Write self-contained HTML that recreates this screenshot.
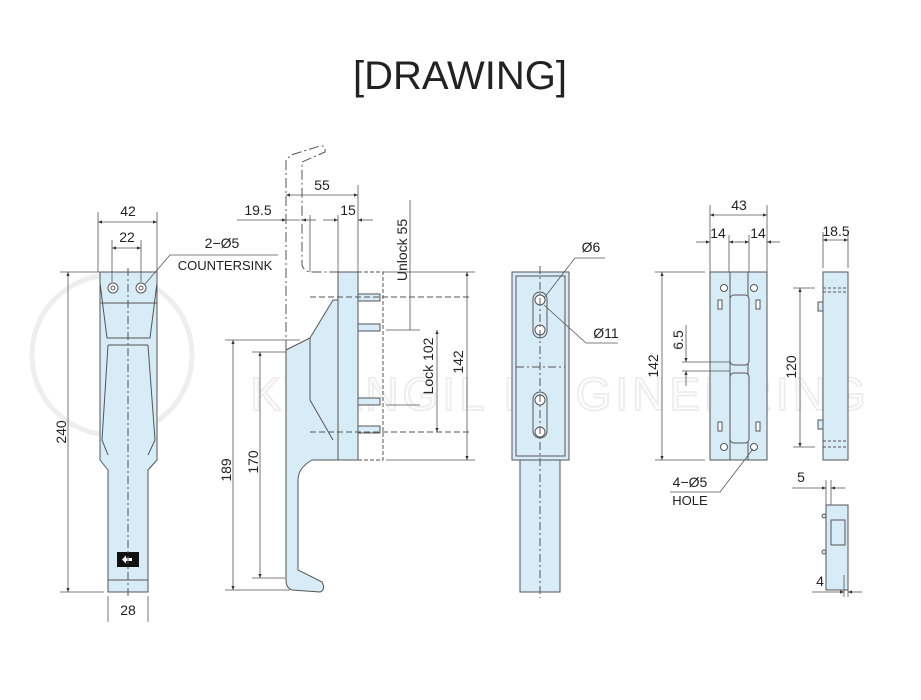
<!DOCTYPE html>
<html><head><meta charset="utf-8"><style>
html,body{margin:0;padding:0;background:#fff;}
svg{display:block;font-family:"Liberation Sans",sans-serif;}
</style></head><body>
<svg width="921" height="700" viewBox="0 0 921 700" xmlns="http://www.w3.org/2000/svg">
<defs>
<marker id="a" viewBox="0 0 10 10" refX="10" refY="5" markerWidth="7" markerHeight="5" orient="auto-start-reverse"><path d="M0,1 L10,5 L0,9z" fill="#333"/></marker>
</defs>
<text x="460" y="89" text-anchor="middle" font-size="40" fill="#222">[DRAWING]</text>

<!-- watermark -->
<g fill="none" stroke="#eeeeee" stroke-width="5">
<circle cx="112" cy="355" r="80"/>
<text x="560" y="410" font-size="46" stroke-width="2" text-anchor="middle" letter-spacing="4">KWANGIL ENGINEERING</text>
</g>

<g stroke="#555" stroke-width="1" fill="#d7ecf7">
<!-- VIEW 1 -->
<path d="M100,272 H157 V460 L148,470 V592 H108 V470 L100,460 Z"/>
<line x1="100" y1="303" x2="157" y2="303"/>
<path d="M100,283 L107,338 H150 L157,283" fill="none"/>
<path d="M108,345 L102,440 L108,455 M148,345 L155,440 L148,455" fill="none"/>
<line x1="108" y1="345" x2="148" y2="345"/>
<line x1="108" y1="580" x2="148" y2="580"/>
<circle cx="113" cy="288" r="5" fill="#fff"/><circle cx="113" cy="288" r="2" fill="none"/>
<circle cx="141" cy="288" r="5" fill="#fff"/><circle cx="141" cy="288" r="2" fill="none"/>
<rect x="117" y="552" width="22" height="15" fill="#111" stroke="none"/>
<path d="M122,559.5 l4,-4 v2.5 h6 v3 h-6 v2.5z" fill="#fff" stroke="none"/>
<line x1="128" y1="268" x2="128" y2="598" stroke-dasharray="8,3,2,3" fill="none"/>

<!-- VIEW 2 -->
<path d="M286,350 L310,338 L333,300 L338,300 V460 L333,460 H312 Q298,468 298,480 V570 L322,582 Q326,590 320,592 L292,590 Q286,588 286,580 Z"/>
<rect x="338" y="272" width="20" height="188"/>
<path d="M310,338 V400 L333,440" fill="none"/>
<path d="M286,350 V160 L291,155 L320,146 Q326,145 325,152 L302,162 V265 Q304,272 312,272 H338" fill="none" stroke-dasharray="10,3,2,3"/>
<g fill="#d7ecf7">
<rect x="358" y="294" width="22" height="7"/><rect x="358" y="324" width="22" height="7"/>
<rect x="358" y="398" width="22" height="7"/><rect x="358" y="426" width="22" height="7"/>
</g>
<path d="M358,272 H383 V460 H358" fill="none" stroke-dasharray="4,2"/>
<line x1="310" y1="297" x2="470" y2="297" stroke-dasharray="6,3" fill="none"/>
<line x1="310" y1="432" x2="470" y2="432" stroke-dasharray="6,3" fill="none"/>
</g>

<g stroke="#555" stroke-width="0.8" fill="none">
<line x1="98" y1="212" x2="98" y2="272"/><line x1="157" y1="212" x2="157" y2="272"/>
<line x1="98" y1="222" x2="157" y2="222" marker-start="url(#a)" marker-end="url(#a)"/>
<line x1="112" y1="240" x2="112" y2="282"/><line x1="141" y1="240" x2="141" y2="282"/>
<line x1="112" y1="248" x2="141" y2="248" marker-start="url(#a)" marker-end="url(#a)"/>
<path d="M145,284 L170,255 H278"/>
<line x1="60" y1="272" x2="100" y2="272"/><line x1="60" y1="592" x2="104" y2="592"/>
<line x1="68" y1="272" x2="68" y2="592" marker-start="url(#a)" marker-end="url(#a)"/>
<line x1="108" y1="596" x2="108" y2="622"/><line x1="148" y1="596" x2="148" y2="622"/>
<line x1="286" y1="195" x2="358" y2="195" marker-start="url(#a)" marker-end="url(#a)"/>
<line x1="358" y1="185" x2="358" y2="272"/>
<line x1="237" y1="220" x2="300" y2="220"/><line x1="280" y1="220" x2="286" y2="220" marker-end="url(#a)"/>
<line x1="316" y1="220" x2="302" y2="220" marker-end="url(#a)"/>
<line x1="310" y1="215" x2="310" y2="272"/>
<line x1="323" y1="220" x2="338" y2="220" marker-end="url(#a)"/>
<line x1="373" y1="220" x2="358" y2="220" marker-end="url(#a)"/>
<line x1="338" y1="215" x2="338" y2="272"/>
<line x1="383" y1="272" x2="475" y2="272"/>
<line x1="386" y1="330" x2="420" y2="330"/>
<line x1="386" y1="405" x2="420" y2="405"/>
<line x1="386" y1="460" x2="475" y2="460"/>
<line x1="410" y1="200" x2="410" y2="330"/>
<line x1="437" y1="330" x2="437" y2="432" marker-start="url(#a)" marker-end="url(#a)"/>
<line x1="467" y1="272" x2="467" y2="460" marker-start="url(#a)" marker-end="url(#a)"/>
<line x1="225" y1="340" x2="300" y2="340"/><line x1="225" y1="590" x2="290" y2="590"/>
<line x1="233" y1="340" x2="233" y2="590" marker-start="url(#a)" marker-end="url(#a)"/>
<line x1="252" y1="352" x2="286" y2="352"/><line x1="252" y1="578" x2="285" y2="578"/>
<line x1="260" y1="352" x2="260" y2="578" marker-start="url(#a)" marker-end="url(#a)"/>
</g>

<g stroke="#555" stroke-width="1" fill="#d7ecf7">
<rect x="512" y="272" width="57" height="188"/>
<rect x="516" y="276" width="49" height="180"/>
<rect x="520" y="460" width="40" height="132"/>
<rect x="533" y="292" width="14" height="46" rx="7"/>
<rect x="533" y="392" width="14" height="46" rx="7"/>
<g fill="#fff"><circle cx="540" cy="300" r="5"/><circle cx="540" cy="330" r="5"/><circle cx="540" cy="400" r="5"/><circle cx="540" cy="432" r="5"/></g>
<line x1="516" y1="367" x2="565" y2="367" stroke-dasharray="8,3,2,3"/>
<line x1="540" y1="266" x2="540" y2="598" stroke-dasharray="8,3,2,3" fill="none"/>
<rect x="710" y="272" width="57" height="188"/>
<path d="M730,272 V460 M748,272 V460" fill="none"/>
<rect x="730" y="295" width="19" height="70" rx="4"/>
<rect x="730" y="373" width="19" height="70" rx="4"/>
<g fill="#fff"><circle cx="724" cy="288" r="3.5"/><circle cx="754" cy="288" r="3.5"/><circle cx="724" cy="447" r="3.5"/><circle cx="754" cy="447" r="3.5"/>
<rect x="718" y="300" width="4" height="9"/><rect x="756" y="300" width="4" height="9"/><rect x="718" y="422" width="4" height="9"/><rect x="756" y="422" width="4" height="9"/></g>
<rect x="823" y="272" width="25" height="188"/>
<rect x="818" y="302" width="5" height="9"/><rect x="818" y="420" width="5" height="9"/>
<path d="M823,288 H848 M823,292 H848 M823,441 H848 M823,447 H848" fill="none" stroke-dasharray="3,2"/>
<rect x="826" y="505" width="22" height="85"/>
<rect x="831" y="520" width="14" height="25"/>
<circle cx="824" cy="516" r="2"/><circle cx="824" cy="552" r="2"/>
</g>

<g stroke="#555" stroke-width="0.8" fill="none">
<path d="M544,298 L575,258 H605"/>
<path d="M544,305 L586,343 H618"/>
<line x1="710" y1="205" x2="710" y2="272"/><line x1="767" y1="205" x2="767" y2="272"/>
<line x1="710" y1="215" x2="767" y2="215" marker-start="url(#a)" marker-end="url(#a)"/>
<line x1="729" y1="235" x2="729" y2="272"/><line x1="749" y1="235" x2="749" y2="272"/>
<line x1="696" y1="242" x2="710" y2="242" marker-end="url(#a)"/>
<line x1="741" y1="242" x2="729" y2="242" marker-end="url(#a)"/>
<line x1="737" y1="242" x2="749" y2="242" marker-end="url(#a)"/>
<line x1="780" y1="242" x2="767" y2="242" marker-end="url(#a)"/>
<line x1="655" y1="272" x2="705" y2="272"/><line x1="655" y1="460" x2="705" y2="460"/>
<line x1="662" y1="272" x2="662" y2="460" marker-start="url(#a)" marker-end="url(#a)"/>
<line x1="682" y1="362" x2="730" y2="362"/><line x1="682" y1="371" x2="730" y2="371"/>
<line x1="686" y1="325" x2="686" y2="362" marker-end="url(#a)"/>
<line x1="686" y1="386" x2="686" y2="371" marker-end="url(#a)"/>
<path d="M753,449 L720,492 H670"/>
<line x1="823" y1="232" x2="823" y2="268"/><line x1="848" y1="232" x2="848" y2="268"/>
<line x1="823" y1="240" x2="848" y2="240" marker-start="url(#a)" marker-end="url(#a)"/>
<line x1="793" y1="288" x2="815" y2="288"/><line x1="793" y1="447" x2="815" y2="447"/>
<line x1="800" y1="288" x2="800" y2="447" marker-start="url(#a)" marker-end="url(#a)"/>
<line x1="826" y1="480" x2="826" y2="505"/><line x1="831" y1="480" x2="831" y2="505"/>
<line x1="792" y1="488" x2="826" y2="488" marker-end="url(#a)"/>
<line x1="845" y1="488" x2="831" y2="488" marker-end="url(#a)"/>
<line x1="844" y1="575" x2="844" y2="597"/><line x1="848" y1="590" x2="848" y2="597"/>
<line x1="812" y1="592" x2="844" y2="592" marker-end="url(#a)"/>
<line x1="862" y1="592" x2="848" y2="592" marker-end="url(#a)"/>
</g>

<g fill="#222" font-size="14">
<text x="128" y="216" text-anchor="middle">42</text>
<text x="127" y="242" text-anchor="middle">22</text>
<text x="222" y="248" text-anchor="middle">2−Ø5</text>
<text x="225" y="270" text-anchor="middle" font-size="13">COUNTERSINK</text>
<text transform="translate(66,432) rotate(-90)" text-anchor="middle">240</text>
<text x="128" y="615" text-anchor="middle">28</text>
<text x="322" y="190" text-anchor="middle">55</text>
<text x="258" y="215" text-anchor="middle">19.5</text>
<text x="348" y="215" text-anchor="middle">15</text>
<text transform="translate(407,250) rotate(-90)" text-anchor="middle">Unlock 55</text>
<text transform="translate(433,366) rotate(-90)" text-anchor="middle">Lock 102</text>
<text transform="translate(463,362) rotate(-90)" text-anchor="middle">142</text>
<text transform="translate(231,470) rotate(-90)" text-anchor="middle">189</text>
<text transform="translate(258,462) rotate(-90)" text-anchor="middle">170</text>
<text x="591" y="252" text-anchor="middle">Ø6</text>
<text x="606" y="338" text-anchor="middle">Ø11</text>
<text x="739" y="210" text-anchor="middle">43</text>
<text x="718" y="238" text-anchor="middle">14</text>
<text x="758" y="238" text-anchor="middle">14</text>
<text transform="translate(658,366) rotate(-90)" text-anchor="middle">142</text>
<text transform="translate(683,340) rotate(-90)" text-anchor="middle">6.5</text>
<text x="690" y="487" text-anchor="middle">4−Ø5</text>
<text x="690" y="505" text-anchor="middle" font-size="13">HOLE</text>
<text x="836" y="236" text-anchor="middle">18.5</text>
<text transform="translate(796,367) rotate(-90)" text-anchor="middle">120</text>
<text x="801" y="482" text-anchor="middle">5</text>
<text x="820" y="586" text-anchor="middle">4</text>
</g>
</svg>
</body></html>
